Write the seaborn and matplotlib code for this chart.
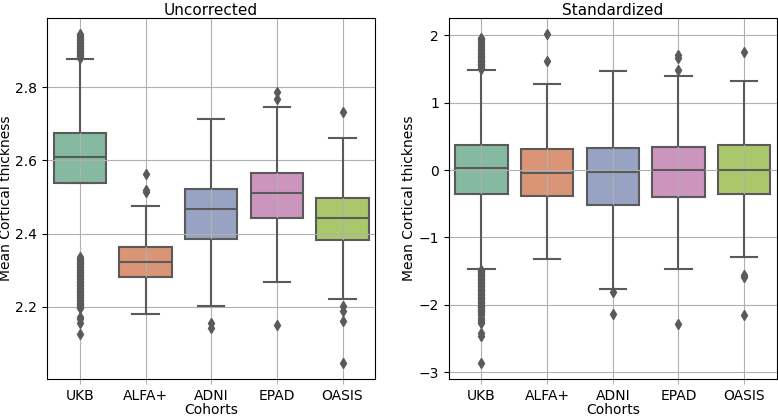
import numpy as np
import pandas as pd
import matplotlib
matplotlib.use("Agg")
import matplotlib.pyplot as plt
import seaborn as sns

cohorts = ["UKB", "ALFA+", "ADNI", "EPAD", "OASIS"]

# Box statistics: [low whisker, Q1, median, Q3, high whisker]
unc_stats = {
    "UKB":   [2.335, 2.539, 2.610, 2.6745, 2.877],
    "ALFA+": [2.180, 2.283, 2.322, 2.364, 2.476],
    "ADNI":  [2.2036, 2.385, 2.468, 2.5227, 2.713],
    "EPAD":  [2.267, 2.444, 2.512, 2.5655, 2.747],
    "OASIS": [2.221, 2.382, 2.442, 2.498, 2.661],
}
unc_outliers = {
    "UKB": [2.880, 2.884, 2.888, 2.892, 2.896, 2.900, 2.904, 2.908, 2.912, 2.916,
            2.920, 2.924, 2.928, 2.932, 2.936, 2.940, 2.944,
            2.332, 2.328, 2.324, 2.320, 2.316, 2.312, 2.308, 2.304, 2.300, 2.296,
            2.292, 2.288, 2.284, 2.280, 2.276, 2.272, 2.268, 2.264, 2.260, 2.256,
            2.252, 2.248, 2.244, 2.240, 2.236, 2.232, 2.228, 2.224, 2.220, 2.216,
            2.212, 2.208, 2.204, 2.200, 2.196,
            2.173, 2.168, 2.155, 2.127],
    "ALFA+": [2.514, 2.520, 2.562],
    "ADNI": [2.156, 2.143],
    "EPAD": [2.768, 2.786, 2.152],
    "OASIS": [2.732, 2.2036, 2.190, 2.161, 2.048],
}

std_stats = {
    "UKB":   [-1.465, -0.360, 0.025, 0.380, 1.485],
    "ALFA+": [-1.322, -0.381, -0.045, 0.307, 1.273],
    "ADNI":  [-1.773, -0.514, -0.024, 0.333, 1.466],
    "EPAD":  [-1.475, -0.395, 0.000, 0.342, 1.392],
    "OASIS": [-1.293, -0.351, 0.000, 0.372, 1.322],
}
std_outliers = {
    "UKB": [1.50, 1.52, 1.54, 1.56, 1.58, 1.60, 1.62, 1.64, 1.66, 1.68, 1.70,
            1.72, 1.74, 1.77, 1.80, 1.83, 1.86, 1.89, 1.92, 1.95, 1.97,
            -1.48, -1.50, -1.52, -1.54, -1.56, -1.58, -1.60, -1.62, -1.64, -1.66,
            -1.68, -1.70, -1.72, -1.74, -1.76, -1.78, -1.80, -1.82, -1.84, -1.86,
            -1.88, -1.90, -1.92, -1.94, -1.96, -1.98, -2.00, -2.02, -2.04, -2.06,
            -2.08, -2.10, -2.13, -2.16, -2.19, -2.22, -2.25, -2.27,
            -2.42, -2.46, -2.86],
    "ALFA+": [1.615, 2.016],
    "ADNI": [-1.81, -2.134],
    "EPAD": [1.49, 1.67, 1.704, -2.293],
    "OASIS": [1.753, -1.565, -1.59, -2.155],
}

box_colors = ["#86b9a1", "#d99576", "#98a3c4", "#cb95bd", "#aac86b"]

REP = 500  # repeat quartile values so that the computed quartiles equal the read ones


def build_frame(stats, outliers):
    rows = []
    for c in cohorts:
        lo, q1, med, q3, hi = stats[c]
        vals = [lo, hi] + [q1] * REP + [med] * REP + [q3] * REP + outliers[c]
        rows.extend((c, v) for v in vals)
    return pd.DataFrame(rows, columns=["Cohorts", "value"])


frames = [build_frame(unc_stats, unc_outliers), build_frame(std_stats, std_outliers)]
titles = ["Uncorrected", "Standardized"]

gray = "#5a5a5a"
fig, axes = plt.subplots(1, 2, figsize=(7.78, 4.16), dpi=100)
fig.subplots_adjust(left=0.0604, right=0.9987, top=0.9567, bottom=0.0889, wspace=0.223)

for ax, df, title in zip(axes, frames, titles):
    sns.boxplot(data=df, x="Cohorts", y="value", hue="Cohorts", order=cohorts,
                hue_order=cohorts, palette=box_colors, saturation=1, width=0.8,
                linecolor=gray, linewidth=1.5, fliersize=5, legend=False,
                flierprops={"marker": "d", "markerfacecolor": gray,
                            "markeredgecolor": gray},
                ax=ax)
    for p in ax.patches:
        p.set_zorder(0.9)
    ax.grid(True)
    ax.tick_params(axis="x", color="#b0b0b0")
    ax.set_title(title, fontsize=11, pad=1.5)
    ax.set_xlabel("Cohorts", labelpad=0.5)
    ax.set_ylabel("Mean Cortical thickness", labelpad=1.5)

axes[1].set_yticks([-3, -2, -1, 0, 1, 2])

fig.savefig("out.png", dpi=100)
